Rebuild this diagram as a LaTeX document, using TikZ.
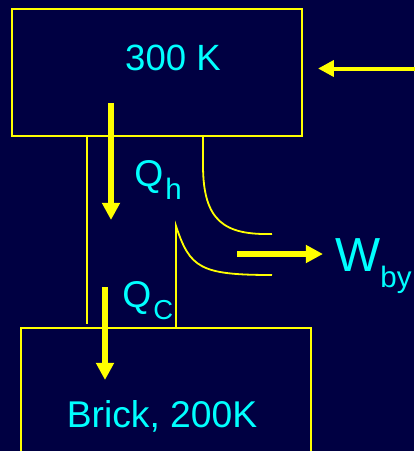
\documentclass[tikz,border=0pt]{standalone}
\usepackage{fontspec}
\setmainfont{Liberation Sans}
\usetikzlibrary{arrows.meta}

\definecolor{navy}{RGB}{0,0,66}
\definecolor{lemon}{RGB}{255,255,0}
\definecolor{aqua}{RGB}{0,255,255}

\begin{document}
\begin{tikzpicture}[
    box/.style={draw=lemon, line width=0.05cm},
    curve/.style={draw=lemon, line width=0.045cm},
    heat/.style={draw=lemon, line width=0.15cm, -{Triangle[length=0.43cm, width=0.43cm]}},
    txt/.style={text=aqua, inner sep=0}
    ]

    % Background
    \useasboundingbox (0, 0) rectangle (10.35, -11.275);
    \fill[navy] (0, 0) rectangle (10.35, -11.275);

    % Hot reservoir
    \node[box, minimum width=7.25cm, minimum height=3.175cm] (Hot) at (3.925, -1.8125) {};
    \node[txt, anchor=base] (Hot Label) at (4.325, -1.75) {\fontsize{26}{30}\selectfont 300 K};

    % Brick
    \node[box, minimum width=7.25cm, minimum height=3.4cm] (Brick) at (4.15, -9.9) {};
    \node[txt, anchor=base] (Brick Label) at (4.05, -10.675) {\fontsize{26.5}{30}\selectfont Brick, 200K};

    % Engine
    \coordinate (Wall bottom) at (2.175, -8.1);
    \coordinate (Upper bend) at (5.075, -4.125);
    \coordinate (Upper end) at (6.8, -5.85);
    \coordinate (Lower peak) at (4.4, -5.65);
    \coordinate (Lower end) at (6.8, -6.875);

    \draw[curve] (Hot.south -| Wall bottom) -- (Wall bottom);
    \draw[curve] (Hot.south -| Upper bend) -- (Upper bend) .. controls +(0, -1.425) and +(-1.175, -0.025) .. (Upper end);
    \draw[curve] (Lower end) .. controls +(-1.8, 0) and +(0.35, -1.05) .. (Lower peak) -- (Lower peak |- Brick.north);

    % Heat and work
    \coordinate (Qh start) at (2.775, -2.575);
    \coordinate (Qh end) at (2.775, -5.5);
    \coordinate (Qc start) at (2.625, -7.175);
    \coordinate (Qc end) at (2.625, -9.5);
    \coordinate (W start) at (5.925, -6.35);
    \coordinate (W end) at (8.075, -6.35);
    \coordinate (Input start) at (10.45, -1.7125);
    \coordinate (Input end) at (7.95, -1.7125);

    \draw[heat] (Qh start) -- (Qh end);
    \draw[heat] (Qc start) -- (Qc end);
    \draw[heat] (W start) -- (W end);
    \draw[draw=lemon, line width=0.1cm, -{Triangle[length=0.4cm, width=0.4cm]}] (Input start) -- (Input end);

    \node[txt, anchor=base west] (Qh) at (3.35, -4.65) {\fontsize{26.5}{30}\selectfont Q\kern1.5pt\raisebox{-9.9pt}{\fontsize{21}{24}\selectfont h}};
    \node[txt, anchor=base west] (Qc) at (3.05, -7.675) {\fontsize{26.5}{30}\selectfont Q\kern1.5pt\raisebox{-9.2pt}{\fontsize{19.5}{22}\selectfont C}};
    \node[txt, anchor=base west] (W) at (8.375, -6.775) {\fontsize{34}{40}\selectfont W\raisebox{-11.4pt}{\fontsize{21}{24}\selectfont by}};

\end{tikzpicture}
\end{document}
